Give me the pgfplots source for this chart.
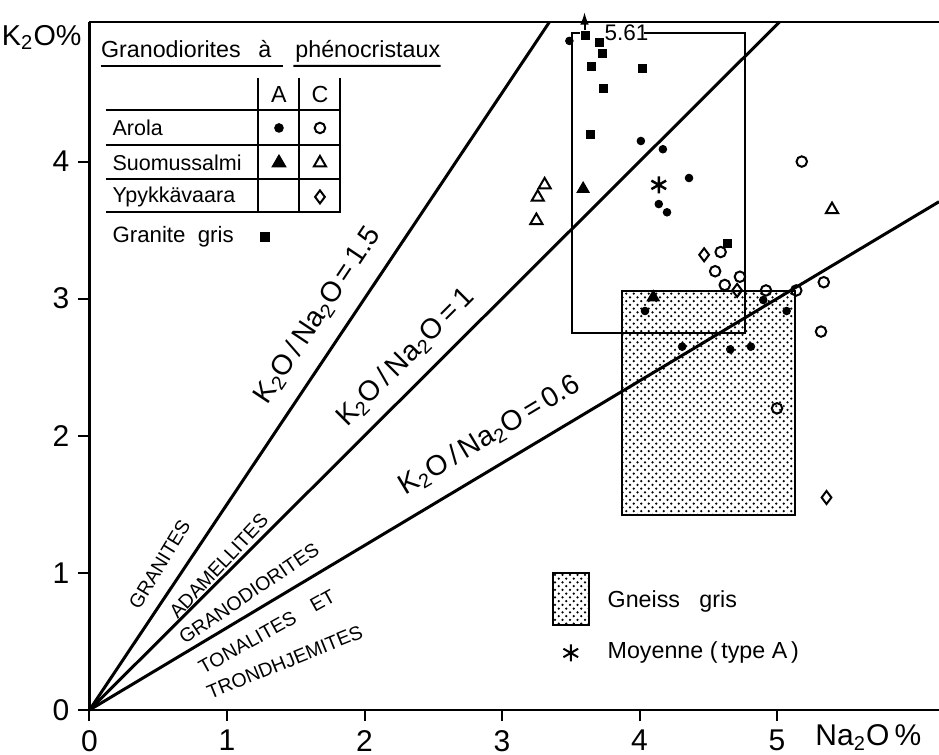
\documentclass[border=0pt]{standalone}
\usepackage{fontspec}
\setmainfont{Liberation Sans}
\usepackage{pgfplots}
\pgfplotsset{compat=1.18}
\usetikzlibrary{patterns,arrows.meta,calc}

\newcommand{\fs}[1]{\fontsize{#1}{#1}\selectfont}
% legend symbol: #1 mark, #2 size
\newcommand{\mk}[2]{\tikz{\path (-#2,-#2) rectangle (#2,#2);\pgfsetlinewidth{0.8pt}\pgfsetplotmarksize{#2}\pgfuseplotmark{#1}}}

\begin{document}
\begin{tikzpicture}
\begin{axis}[
  name=ax,
  scale only axis, width=339.8pt, height=275.2pt,
  xmin=0, xmax=6.178, ymin=0, ymax=5.018,
  axis line style={draw=none},
  xtick={0,1,2,3,4,5}, ytick={0,1,2,3,4},
  tick align=outside, xtick pos=left, ytick pos=left,
  major tick length=4.5pt,
  tick style={line width=0.8pt, black},
  ticklabel style={font=\fs{12}},
  /pgf/number format/assume math mode=true,
  clip=false,
  every node/.style={inner sep=1pt},
]
% axis frame (left, bottom, top)
\draw[line width=1pt] (rel axis cs:0,1) -- (rel axis cs:0,0) -- (rel axis cs:1,0);
\draw[line width=1pt] (rel axis cs:0,1) -- (rel axis cs:1,1);

% Gneiss gris field
\draw[pattern=crosshatch dots, line width=0.8pt] (axis cs:3.875,1.42) rectangle (axis cs:5.13,3.056);

% ratio lines
\addplot[black, line width=1.2pt] coordinates {(0,0) (3.345,5.018)};
\addplot[black, line width=1.2pt] coordinates {(0,0) (5.018,5.018)};
\addplot[black, line width=1.2pt] coordinates {(0,0) (6.178,3.707)};

% granite gris range box
\draw[line width=0.8pt] (axis cs:3.57,4.94) -- (axis cs:3.51,4.94) -- (axis cs:3.51,2.75) -- (axis cs:4.77,2.75) -- (axis cs:4.77,4.94) -- (axis cs:4.03,4.94);
\node[font=\fs{9}] at (axis cs:3.906,4.94) {5.61};
\draw[line width=0.8pt, -{Latex[length=5pt,width=3.5pt]}] (axis cs:3.60,4.96) -- (axis cs:3.60,5.09);

% data
% Arola A
\addplot[only marks, mark=*, mark size=1.5pt, black] coordinates {
(3.49,4.88) (4.01,4.15) (4.17,4.09) (4.36,3.88) (4.14,3.69) (4.20,3.63)
(4.04,2.91) (4.90,2.99) (5.07,2.91) (4.31,2.65) (4.66,2.63) (4.81,2.65)};
% Arola C
\addplot[only marks, mark=o, mark size=2.1pt, black, mark options={fill=white, line width=0.8pt}] coordinates {
(4.59,3.34) (4.55,3.20) (4.73,3.16) (4.62,3.10) (4.92,3.06) (5.14,3.06)
(5.34,3.12) (5.32,2.76) (5.00,2.20) (5.18,4.00)};
% Suomussalmi A
\addplot[only marks, mark=triangle*, mark size=2.8pt, black] coordinates {
(3.59,3.80) (4.10,3.01)};
% Suomussalmi C
\addplot[only marks, mark=triangle, mark size=2.8pt, black, mark options={fill=white, line width=0.8pt}] coordinates {
(3.31,3.83) (3.26,3.74) (3.25,3.57) (5.40,3.65)};
% Ypykkavaara C
\addplot[only marks, mark=diamond, mark size=2.6pt, black, mark options={fill=white, line width=0.8pt}] coordinates {
(4.47,3.32) (4.71,3.06) (5.36,1.55)};
% Granite gris
\addplot[only marks, mark=square*, mark size=1.6pt, black] coordinates {
(3.61,4.92) (3.71,4.87) (3.73,4.79) (3.65,4.69) (4.02,4.68) (3.74,4.53) (3.64,4.20) (4.64,3.40)};
% Moyenne type A
\addplot[only marks, mark=asterisk, mark size=3.4pt, black, mark options={line width=1pt}] coordinates {
(4.14,3.83)};

% ratio labels
\node[rotate=56.31, font=\fs{11.3}] at (axis cs:1.66,2.88) {K\textsubscript{2}O\,/\,Na\textsubscript{2}O\,=\,1.5};
\node[rotate=45, font=\fs{11.3}] at (axis cs:2.30,2.57) {K\textsubscript{2}O\,/\,Na\textsubscript{2}O\,=\,1};
\node[rotate=30.96, font=\fs{11.3}] at (axis cs:2.91,2.00) {K\textsubscript{2}O\,/\,Na\textsubscript{2}O\,=\,0.6};

% field labels
\node[rotate=58.7, font=\fs{7.8}] at (axis cs:0.51,1.06) {GRANITES};
\node[rotate=47, font=\fs{7.8}] at (axis cs:0.94,1.05) {ADAMELLITES};
\node[rotate=34, font=\fs{7.8}] at (axis cs:1.16,0.85) {GRANODIORITES};
\node[rotate=29, font=\fs{7.8}] at (axis cs:1.29,0.57) {TONALITES\quad ET};
\node[rotate=22, font=\fs{7.8}] at (axis cs:1.42,0.35) {TRONDHJEMITES};

% legend table
\node[anchor=base west, inner sep=0pt, font=\fs{9.3}] (t1) at (axis cs:0.081,4.756) {Granodiorites};
\node[anchor=base west, inner sep=0pt, font=\fs{9.3}] (t2) at (axis cs:1.225,4.756) {à};
\node[anchor=base west, inner sep=0pt, font=\fs{9.3}] (t3) at (axis cs:1.494,4.756) {phénocristaux};
\draw[line width=0.8pt] (axis cs:0.081,4.697) -- (axis cs:1.405,4.697);
\draw[line width=0.8pt] (axis cs:1.482,4.697) -- ([yshift=-3.2pt]t3.base east);

\draw[line width=0.8pt] (axis cs:0.12,4.376) -- (axis cs:1.822,4.376);
\draw[line width=0.8pt] (axis cs:0.12,4.121) -- (axis cs:1.822,4.121);
\draw[line width=0.8pt] (axis cs:0.12,3.873) -- (axis cs:1.822,3.873);
\draw[line width=0.8pt] (axis cs:0.12,3.632) -- (axis cs:1.822,3.632);
\draw[line width=0.8pt] (axis cs:1.223,4.61) -- (axis cs:1.223,3.625);
\draw[line width=0.8pt] (axis cs:1.523,4.61) -- (axis cs:1.523,3.625);
\draw[line width=0.8pt] (axis cs:1.822,4.61) -- (axis cs:1.822,3.625);

\node[font=\fs{9.3}] at (axis cs:1.378,4.486) {A};
\node[font=\fs{9.3}] at (axis cs:1.676,4.486) {C};
\node[anchor=west, inner sep=0pt, font=\fs{8.6}] at (axis cs:0.164,4.245) {Arola};
\node[anchor=west, inner sep=0pt, font=\fs{8.6}] at (axis cs:0.164,3.990) {Suomussalmi};
\node[anchor=west, inner sep=0pt, font=\fs{8.6}] at (axis cs:0.164,3.742) {Ypykkävaara};
\node[anchor=west, inner sep=0pt, font=\fs{8.9}] at (axis cs:0.164,3.450) {Granite\ \ gris};
\node[inner sep=0pt] at (axis cs:1.378,4.245) {\mk{*}{1.5pt}};
\node[inner sep=0pt] at (axis cs:1.676,4.245) {\mk{o}{2.1pt}};
\node[inner sep=0pt] at (axis cs:1.378,3.990) {\mk{triangle*}{2.8pt}};
\node[inner sep=0pt] at (axis cs:1.676,3.990) {\mk{triangle}{2.8pt}};
\node[inner sep=0pt] at (axis cs:1.676,3.742) {\mk{diamond}{2.6pt}};
\node[inner sep=0pt] at (axis cs:1.276,3.450) {\mk{square*}{1.6pt}};

% lower legend
\draw[pattern=crosshatch dots, line width=0.8pt] (axis cs:3.37,0.62) rectangle (axis cs:3.63,1.0);
\node[anchor=west, inner sep=0pt, font=\fs{9.3}] at (axis cs:3.765,0.79) {Gneiss\ \ \ gris};
\node[inner sep=0pt] at (axis cs:3.50,0.416) {\mk{asterisk}{3.4pt}};
\node[anchor=west, inner sep=0pt, font=\fs{9.3}] at (axis cs:3.765,0.416) {Moyenne (\,type A\,)};

% axis labels
\node[anchor=north east, font=\fs{11.5}, inner sep=0pt, xshift=-3pt, yshift=-1pt] at (rel axis cs:0,1) {K\textsubscript{2}O\%};
\node[anchor=west, font=\fs{12}, inner sep=0pt] at (axis cs:5.276,-0.20) {Na\textsubscript{2}O\,\%};
\end{axis}
\pgfresetboundingbox
\path[use as bounding box] ($(ax.south west)+(-35.8pt,-18pt)$) rectangle ($(ax.north east)+(0pt,8.8pt)$);
\end{tikzpicture}
\end{document}
